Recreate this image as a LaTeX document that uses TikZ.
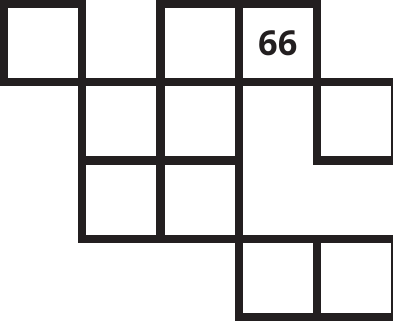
\documentclass[tikz,border=0pt]{standalone}
\usepackage{fontspec}
\setsansfont{Open Sans}
\usepackage{tikz}
\usetikzlibrary{positioning}
\definecolor{ink}{HTML}{231F20}
\tikzset{cell/.style={draw=ink, line width=2.95pt, minimum size=1cm, inner sep=0pt, outer sep=0pt, font=\sffamily\bfseries\fontsize{12.5}{14}\selectfont, text=ink}}

\begin{document}
\begin{tikzpicture}
\useasboundingbox (-0.052,0.052) rectangle (4.974,-4.078);
\node[cell] (a1) at (0.5,-0.5) {};
\node[cell] (a3) at (2.5,-0.5) {};
\node[cell] (a4) at (3.5,-0.5) {66};

\node[cell] (b2) at (1.5,-1.5) {};
\node[cell] (b3) at (2.5,-1.5) {};
\node[cell] (b5) at (4.5,-1.5) {};

\node[cell] (c2) at (1.5,-2.5) {};
\node[cell] (c3) at (2.5,-2.5) {};

\node[cell] (d4) at (3.5,-3.5) {};
\node[cell] (d5) at (4.5,-3.5) {};
\end{tikzpicture}
\end{document}
